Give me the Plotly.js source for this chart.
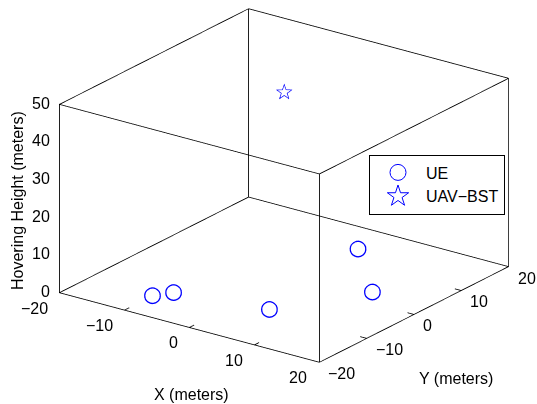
<!DOCTYPE html>
<html>
<head>
<meta charset="utf-8">
<script src="https://cdn.plot.ly/plotly-3.0.1.min.js"></script>
<style>html,body{margin:0;padding:0;background:#fff;}#chart{width:537px;height:404px;}</style>
</head>
<body>
<div id="chart"></div>
<script>
// UE positions (meters)
const ueX = [-10.1, -8.6, 4.4, 1.3, 11.3];
const ueY = [-14.0, -11.6, -9.2, 13.8, 3.1];
const ueZ = [0, 0, 0, 0, 0];
// UAV-BST position
const uavX = [0];
const uavY = [0];
const uavZ = [50];
// axis limits and ticks
const xRange = [-20, 20];
const yRange = [-20, 20];
const zRange = [0, 50];
const xTicks = [-20, -10, 0, 10, 20];
const yTicks = [-20, -10, 0, 10, 20];
const zTicks = [0, 10, 20, 30, 40, 50];
const legendNames = ['UE', 'UAV\u2212BST'];
const axisTitles = ['X (meters)', 'Y (meters)', 'Hovering Height (meters)'];

const blue = '#0000ff';
const fontFam = 'Liberation Sans, Arial, sans-serif';
const FS = 16;
const ZOOM = 1.74;

// tiny padding so that frame lines on the box faces are not clipped
function padded(r) { const p = (r[1] - r[0]) * 0.002; return [r[0] - p, r[1] + p]; }

function axis(range, ticks) {
  return {
    range: padded(range), autorange: false, tickvals: ticks,
    showticklabels: false, ticks: '',
    showgrid: false, zeroline: false, showbackground: false,
    showline: false, title: {text: ''}, showspikes: false
  };
}

// box frame (all 12 edges) + tick marks, built from axis limits / tick arrays
const fx = [], fy = [], fz = [];
function seg(a, b) { fx.push(a[0], b[0], null); fy.push(a[1], b[1], null); fz.push(a[2], b[2], null); }
[0, 1].forEach(i => [0, 1].forEach(j => {
  seg([xRange[0], yRange[i], zRange[j]], [xRange[1], yRange[i], zRange[j]]);
  seg([xRange[i], yRange[0], zRange[j]], [xRange[i], yRange[1], zRange[j]]);
  seg([xRange[i], yRange[j], zRange[0]], [xRange[i], yRange[j], zRange[1]]);
}));
const tkY = (yRange[1] - yRange[0]) * 0.025, tkX = (xRange[1] - xRange[0]) * 0.025;
xTicks.forEach(v => seg([v, yRange[0], zRange[0]], [v, yRange[0] + tkY, zRange[0]]));
yTicks.forEach(v => seg([xRange[1], v, zRange[0]], [xRange[1] - tkX, v, zRange[0]]));
zTicks.forEach(v => seg([xRange[0], yRange[0], v], [xRange[0] - tkX * 0.8, yRange[0], v]));

const minus = v => String(v).replace('-', '\u2212');
const ann = [];
xTicks.forEach(v => ann.push({x: v, y: yRange[0], z: zRange[0], text: minus(v), showarrow: false, xanchor: 'right', yanchor: 'top', xshift: -10, yshift: -5}));
yTicks.forEach(v => ann.push({x: xRange[1], y: v, z: zRange[0], text: minus(v), showarrow: false, xanchor: 'left', yanchor: 'top', xshift: 7, yshift: -1}));
zTicks.forEach(v => ann.push({x: xRange[0], y: yRange[0], z: v, text: minus(v), showarrow: false, xanchor: 'right', yanchor: 'middle', xshift: -8, yshift: 1}));

const traces = [
  {type: 'scatter3d', mode: 'lines', x: fx, y: fy, z: fz, showlegend: false, hoverinfo: 'skip',
   line: {color: '#000', width: 1.6}},
  {type: 'scatter3d', mode: 'text', x: ueX, y: ueY, z: ueZ, showlegend: false, textposition: 'middle center',
   text: ueX.map(() => '\u25CB'), textfont: {size: 22, color: blue, family: 'DejaVu Sans'}},
  {type: 'scatter3d', mode: 'text', x: uavX, y: uavY, z: uavZ, showlegend: false, textposition: 'middle center',
   text: uavX.map(() => '\u2606'), textfont: {size: 22, color: blue, family: 'DejaVu Sans'}},
  {type: 'scatter', mode: 'markers', x: [null], y: [null], name: legendNames[0],
   marker: {symbol: 'circle-open', size: 16, color: blue, line: {width: 1}}},
  {type: 'scatter', mode: 'markers', x: [null], y: [null], name: legendNames[1],
   marker: {symbol: 'star-open', size: 17, color: blue, line: {width: 1}}}
];

const layout = {
  width: 537, height: 404,
  margin: {l: 0, r: 0, t: 0, b: 0},
  paper_bgcolor: '#fff', plot_bgcolor: 'rgba(0,0,0,0)',
  font: {family: fontFam, size: FS, color: '#000'},
  xaxis: {visible: false}, yaxis: {visible: false},
  scene: {
    domain: {x: [0.058, 1], y: [0.082, 1]},
    xaxis: axis(xRange, xTicks),
    yaxis: axis(yRange, yTicks),
    zaxis: axis(zRange, zTicks),
    aspectmode: 'manual', aspectratio: {x: ZOOM, y: ZOOM, z: 0.63 * ZOOM},
    camera: {
      projection: {type: 'orthographic'},
      eye: {x: 0.547 * 6, y: -0.752 * 6, z: 0.368 * 6},
      up: {x: 0, y: 0, z: 1}, center: {x: 0, y: 0, z: 0}
    },
    annotations: ann
  },
  showlegend: true,
  legend: {x: 369 / 537, y: 1 - 184.5 / 404, xanchor: 'left', yanchor: 'middle', itemwidth: 46,
    bgcolor: '#fff', bordercolor: '#000', borderwidth: 1,
    font: {family: fontFam, size: FS, color: '#000'}},
  annotations: [
    {text: axisTitles[0], xref: 'paper', yref: 'paper', x: 191 / 537, y: 1 - 394 / 404, xanchor: 'center', yanchor: 'middle', showarrow: false},
    {text: axisTitles[1], xref: 'paper', yref: 'paper', x: 456 / 537, y: 1 - 378 / 404, xanchor: 'center', yanchor: 'middle', showarrow: false},
    {text: axisTitles[2], xref: 'paper', yref: 'paper', x: 17 / 537, y: 1 - 201 / 404, xanchor: 'center', yanchor: 'middle', showarrow: false, textangle: -90}
  ]
};

Plotly.newPlot('chart', traces, layout, {displayModeBar: false});
</script>
</body>
</html>
